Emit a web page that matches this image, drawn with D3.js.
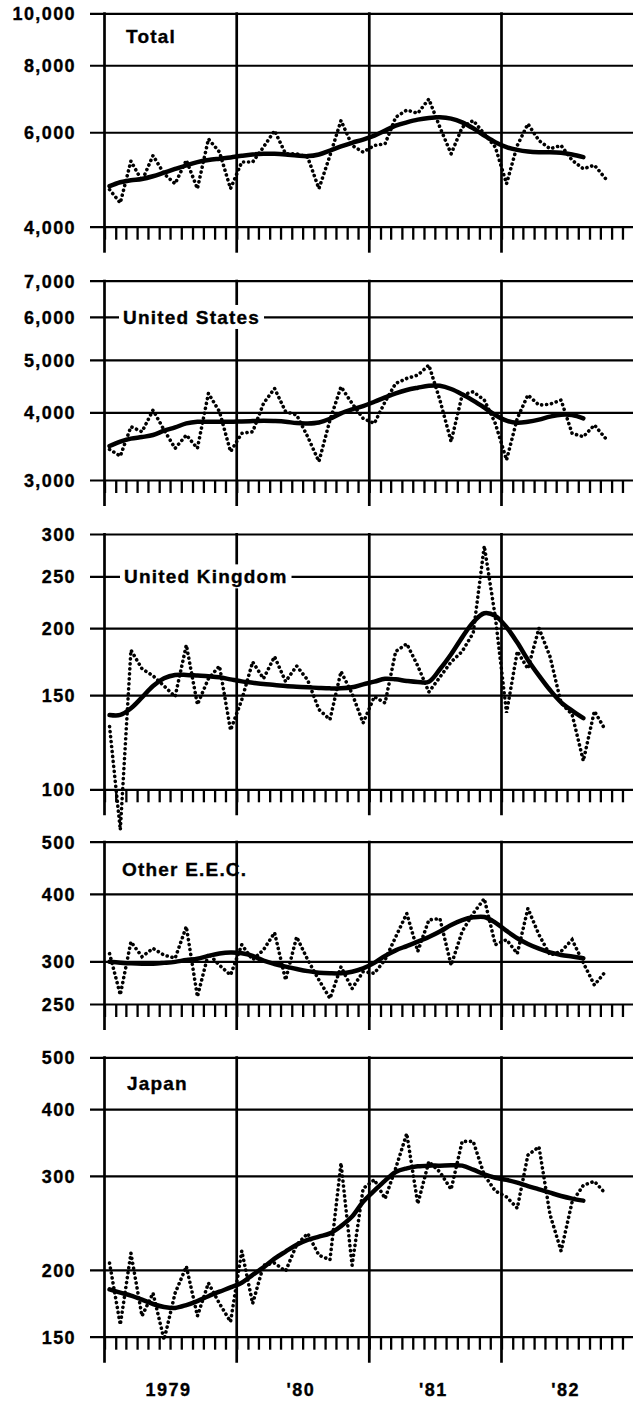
<!DOCTYPE html>
<html>
<head>
<meta charset="utf-8">
<script src="https://cdn.jsdelivr.net/npm/d3@7"></script>
<style>
  html, body { margin: 0; padding: 0; background: #fff; }
  svg { display: block; }
  text { font-family: "Liberation Sans", Arial, Helvetica, sans-serif; font-weight: bold; fill: #000;
         stroke: #000; stroke-width: 0.35px; }
</style>
</head>
<body>
<svg id="chart" width="633" height="1404"></svg>
<script>
// ---------- DATA ----------
const months = [
  "1979-01","1979-02","1979-03","1979-04","1979-05","1979-06","1979-07","1979-08","1979-09","1979-10","1979-11","1979-12",
  "1980-01","1980-02","1980-03","1980-04","1980-05","1980-06","1980-07","1980-08","1980-09","1980-10","1980-11","1980-12",
  "1981-01","1981-02","1981-03","1981-04","1981-05","1981-06","1981-07","1981-08","1981-09","1981-10","1981-11","1981-12",
  "1982-01","1982-02","1982-03","1982-04","1982-05","1982-06","1982-07","1982-08","1982-09","1982-10"
];
const yearLabels = ["1979", "'80", "'81", "'82"];

const totalMonthly = [4690,4430,5300,4870,5430,5020,4810,5320,4710,5830,5510,4710,
                      5280,5280,5630,6040,5470,5470,5390,4710,5430,6310,5670,5510,
                      5670,5710,6400,6600,6510,6920,6130,5470,6130,6310,5960,5630,
                      4810,5670,6220,5790,5590,5670,5320,5130,5210,4920];
const totalTrend = [4760,4842,4883,4910,4967,5045,5125,5206,5279,5325,5356,5385,
                    5424,5455,5470,5470,5455,5431,5416,5455,5548,5645,5735,5816,
                    5916,6043,6172,6261,6335,6381,6399,6362,6261,6103,5916,5749,
                    5629,5563,5524,5508,5508,5494,5455,5393];
const totalTicks = [4000, 6000, 8000, 10000];

const usMonthly = [3417,3321,3763,3683,4038,3710,3432,3632,3432,4336,4011,3384,
                   3658,3683,4154,4428,4011,3955,3606,3244,3871,4459,4154,3898,
                   3816,4184,4524,4620,4686,4890,4215,3532,4306,4366,4215,3816,
                   3266,3898,4306,4125,4140,4215,3658,3606,3790,3583];
const usTrend = [3466,3532,3577,3601,3632,3699,3752,3816,3843,3843,3843,3843,
                 3849,3854,3860,3854,3843,3821,3816,3832,3893,3982,4050,4108,
                 4184,4262,4336,4398,4441,4478,4478,4417,4318,4203,4080,3955,
                 3860,3827,3843,3877,3927,3961,3955,3899];
const usTicks = [3000, 4000, 5000, 6000, 7000];

const ukMonthly = [131,84,182,168,163,156,149,186,144,161,170,129,
                   147,173,161,177,159,170,160,141,135,166,151,133,
                   149,145,181,187,170,152,162,173,181,196,285,210,
                   139,181,168,200,177,145,138,113,140,129];
const ukTrend = [137.7,137.7,141.7,148.5,156.0,161.2,163.6,163.6,163.1,162.6,161.9,160.5,
                 159.1,158.2,157.3,156.7,156.0,155.5,155.1,154.7,154.4,154.4,155.1,157.1,
                 158.9,160.9,160.5,159.4,158.7,158.9,167.6,178.8,192.3,205.2,213.3,210.9,
                 200.8,188.0,174.5,163.1,153.3,145.4,140.3,135.8];
const ukTicks = [100, 150, 200, 250, 300];

const eecMonthly = [310,260,326,306,317,308,304,348,258,310,295,283,
                    322,302,315,339,277,333,302,277,256,293,267,287,
                    285,302,333,368,313,358,360,295,341,368,392,322,
                    329,310,376,336,308,313,329,298,271,287];
const eecTrend = [299.3,298.3,297.5,297.0,297.0,298.0,299.3,301.7,303.4,307.0,310.1,311.4,
                  310.5,307.0,300.8,296.6,293.2,290.3,287.7,285.7,285.0,285.0,287.0,291.2,
                  298.0,307.0,314.4,320.2,326.2,332.8,340.6,350.4,357.8,362.0,362.5,353.9,
                  341.6,331.1,323.0,316.6,311.7,308.3,306.1,303.9];
const eecTicks = [250, 300, 400, 500];

const japanMonthly = [206,158,215,164,181,148,181,203,164,189,173,160,
                      217,173,204,206,199,223,234,213,209,317,204,284,
                      295,272,310,360,266,319,305,283,348,348,301,281,
                      274,261,328,340,254,217,268,288,293,278];
const japanTrend = [183.9,181.4,179.1,176.0,172.7,170.5,169.8,171.9,174.9,178.6,182.1,185.5,
                    189.3,195.8,202.2,210.0,216.5,222.9,227.6,230.9,234.1,241.6,251.7,268.3,
                    281.4,293.9,305.0,309.9,312.6,313.5,313.5,314.0,313.5,308.1,301.9,297.6,
                    294.8,291.3,287.1,283.1,279.0,275.1,272.0,269.6];
const japanTicks = [150, 200, 300, 400, 500];

// ---------- LAYOUT ----------
const svg = d3.select("#chart");
const W = 633;
const parseMonth = d3.utcParse("%Y-%m");
const monthDates = months.map(parseMonth);
// data points sit just before the middle of each month
const midMonth = d => new Date(d.getTime() + 0.45 * (d3.utcMonth.offset(d, 1).getTime() - d.getTime()));

const x = d3.scaleUtc()
  .domain([new Date(Date.UTC(1979, 0, 1)), new Date(Date.UTC(1983, 0, 1))])
  .range([104.5, 633.7]);

const gridLeft = 90;

const panels = [
  { name: "Total",          monthly: totalMonthly, trend: totalTrend, ticks: totalTicks, top: 13.3,   bottom: 226.7,  label: { mode: "box", x: 126, dy: 30 } },
  { name: "United States",  monthly: usMonthly,    trend: usTrend,    ticks: usTicks,    top: 280.7,  bottom: 480.0,  label: { mode: "line", x: 123, value: 6000 } },
  { name: "United Kingdom", monthly: ukMonthly,    trend: ukTrend,    ticks: ukTicks,    top: 534.0,  bottom: 789.3,  label: { mode: "line", x: 124, value: 250 } },
  { name: "Other E.E.C.",   monthly: eecMonthly,   trend: eecTrend,   ticks: eecTicks,   top: 841.7,  bottom: 1004.0, label: { mode: "box", x: 122, dy: 34 } },
  { name: "Japan",          monthly: japanMonthly, trend: japanTrend, ticks: japanTicks, top: 1057.3, bottom: 1336.7, label: { mode: "box", x: 127, dy: 33 } }
];

const yearStarts = d3.utcYear.range(new Date(Date.UTC(1979, 0, 1)), new Date(Date.UTC(1983, 0, 2)));
const monthTicks = d3.utcMonth.range(new Date(Date.UTC(1979, 0, 1)), new Date(Date.UTC(1983, 0, 1)));

panels.forEach(p => {
  const dom = d3.extent(p.ticks);
  const y = d3.scaleLog().domain(dom).range([p.bottom, p.top]);
  const g = svg.append("g");

  // horizontal grid + y tick labels
  const yAxis = d3.axisLeft(y)
    .tickValues(p.ticks)
    .tickSize(-(W - gridLeft))
    .tickPadding(14)
    .tickFormat(d3.format(","));
  const ya = g.append("g").attr("transform", `translate(${gridLeft},0)`).call(yAxis);
  ya.select(".domain").remove();
  ya.selectAll(".tick line").attr("stroke", "#000").attr("stroke-width", 2.2);
  ya.selectAll(".tick text")
    .attr("font-size", 18)
    .attr("letter-spacing", "1.4px")
    .attr("dy", "0.36em")
    .style("font-family", "'Liberation Sans', Arial, sans-serif")
    .style("font-weight", "bold");

  // monthly minor ticks hanging below the bottom line
  const xAxis = d3.axisBottom(x).tickValues(monthTicks).tickSize(13).tickFormat("");
  const xa = g.append("g").attr("transform", `translate(0,${p.bottom})`).call(xAxis);
  xa.select(".domain").remove();
  xa.selectAll(".tick line").attr("stroke", "#000").attr("stroke-width", 2.3);

  // vertical axis + year lines
  g.append("g").selectAll("line")
    .data(yearStarts.filter(d => x(d) < W))
    .join("line")
    .attr("x1", d => x(d)).attr("x2", d => x(d))
    .attr("y1", p.top - 1).attr("y2", p.bottom + 26)
    .attr("stroke", "#000").attr("stroke-width", 2.7);

  // series label
  if (p.label.mode === "line") {
    const ly = y(p.label.value);
    const bg = g.append("rect").attr("fill", "#fff");
    const t = g.append("text")
      .attr("x", p.label.x).attr("y", ly + 7)
      .attr("font-size", 19).attr("letter-spacing", "1.2px")
      .text(p.name);
    const bb = t.node().getBBox();
    bg.attr("x", bb.x - 4).attr("y", ly - 12)
      .attr("width", bb.width + 8).attr("height", 24);
  } else {
    g.append("text")
      .attr("x", p.label.x).attr("y", p.top + p.label.dy)
      .attr("font-size", 19).attr("letter-spacing", "1.2px")
      .text(p.name);
  }

  // dotted monthly series
  const lineM = d3.line()
    .x((d, i) => x(midMonth(monthDates[i])))
    .y(d => y(d));
  g.append("path")
    .datum(p.monthly)
    .attr("d", lineM)
    .attr("fill", "none")
    .attr("stroke", "#000")
    .attr("stroke-width", 3.6)
    .attr("stroke-linecap", "round")
    .attr("stroke-dasharray", "0.1 4.9");

  // smooth trend
  const lineT = d3.line()
    .x((d, i) => x(midMonth(monthDates[i])))
    .y(d => y(d))
    .curve(d3.curveCatmullRom.alpha(0.5));
  g.append("path")
    .datum(p.trend)
    .attr("d", lineT)
    .attr("fill", "none")
    .attr("stroke", "#000")
    .attr("stroke-width", 4.5)
    .attr("stroke-linecap", "round")
    .attr("stroke-linejoin", "round");
});

// year labels under the last panel
const yearMid = yearStarts.slice(0, 4).map(d => new Date((d.getTime() + d3.utcYear.offset(d, 1).getTime()) / 2));
svg.append("g").selectAll("text")
  .data(yearLabels)
  .join("text")
  .attr("x", (d, i) => x(yearMid[i]) - 2)
  .attr("y", 1396)
  .attr("text-anchor", "middle")
  .attr("font-size", 18)
  .attr("letter-spacing", "1.5px")
  .text(d => d);
</script>
</body>
</html>
